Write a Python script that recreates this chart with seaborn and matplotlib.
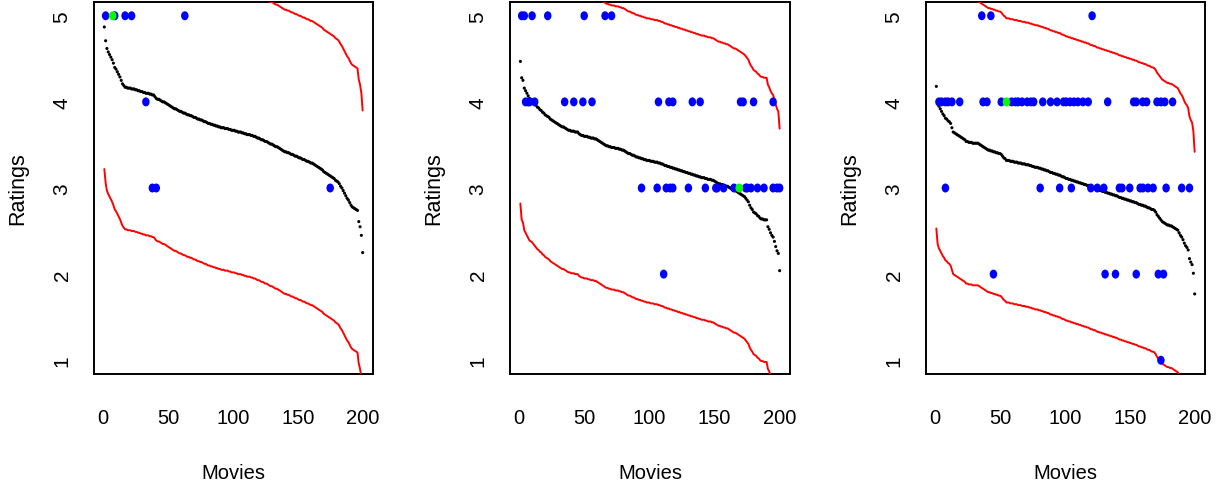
import numpy as np
import pandas as pd
import matplotlib
matplotlib.use("Agg")
import matplotlib.pyplot as plt
import seaborn as sns
from matplotlib.path import Path
from matplotlib.transforms import Affine2D

# ---------------- data ----------------
movies = list(range(1, 201))

avg_1 = [
    4.87, 4.71, 4.62, 4.58, 4.55, 4.52, 4.49, 4.45, 4.40, 4.38,
    4.35, 4.32, 4.29, 4.25, 4.21, 4.19, 4.17, 4.17, 4.16, 4.16,
    4.16, 4.15, 4.15, 4.15, 4.14, 4.14, 4.13, 4.13, 4.12, 4.12,
    4.11, 4.11, 4.10, 4.10, 4.10, 4.09, 4.09, 4.08, 4.08, 4.06,
    4.04, 4.03, 4.03, 4.02, 4.01, 4.00, 4.00, 3.99, 3.98, 3.97,
    3.96, 3.95, 3.94, 3.93, 3.92, 3.92, 3.91, 3.90, 3.89, 3.89,
    3.88, 3.87, 3.87, 3.86, 3.85, 3.85, 3.84, 3.84, 3.83, 3.82,
    3.82, 3.81, 3.80, 3.80, 3.79, 3.79, 3.78, 3.77, 3.77, 3.76,
    3.75, 3.75, 3.74, 3.74, 3.73, 3.73, 3.72, 3.72, 3.71, 3.71,
    3.70, 3.70, 3.70, 3.69, 3.69, 3.69, 3.68, 3.68, 3.67, 3.67,
    3.67, 3.66, 3.66, 3.65, 3.65, 3.65, 3.64, 3.64, 3.63, 3.63,
    3.62, 3.62, 3.62, 3.61, 3.61, 3.60, 3.60, 3.59, 3.58, 3.58,
    3.57, 3.56, 3.56, 3.55, 3.54, 3.54, 3.53, 3.52, 3.51, 3.51,
    3.50, 3.49, 3.48, 3.48, 3.47, 3.46, 3.45, 3.44, 3.43, 3.42,
    3.42, 3.41, 3.41, 3.40, 3.39, 3.39, 3.38, 3.37, 3.37, 3.36,
    3.35, 3.35, 3.34, 3.33, 3.33, 3.32, 3.31, 3.31, 3.30, 3.29,
    3.29, 3.28, 3.27, 3.26, 3.25, 3.24, 3.23, 3.22, 3.21, 3.19,
    3.18, 3.17, 3.16, 3.15, 3.14, 3.13, 3.12, 3.11, 3.09, 3.08,
    3.07, 3.05, 3.02, 3.00, 2.97, 2.94, 2.91, 2.88, 2.86, 2.83,
    2.80, 2.78, 2.77, 2.76, 2.75, 2.74, 2.61, 2.55, 2.45, 2.25,
]

avg_2 = [
    4.47, 4.28, 4.25, 4.16, 4.13, 4.10, 4.07, 4.04, 4.03, 4.02,
    4.00, 3.98, 3.96, 3.94, 3.93, 3.91, 3.90, 3.88, 3.87, 3.85,
    3.84, 3.83, 3.82, 3.80, 3.79, 3.78, 3.77, 3.76, 3.75, 3.74,
    3.73, 3.72, 3.71, 3.71, 3.70, 3.69, 3.68, 3.67, 3.67, 3.66,
    3.66, 3.66, 3.65, 3.65, 3.65, 3.63, 3.62, 3.61, 3.61, 3.60,
    3.60, 3.60, 3.59, 3.59, 3.58, 3.58, 3.58, 3.57, 3.57, 3.56,
    3.55, 3.54, 3.53, 3.52, 3.51, 3.50, 3.49, 3.49, 3.48, 3.48,
    3.47, 3.47, 3.47, 3.46, 3.46, 3.46, 3.45, 3.45, 3.44, 3.44,
    3.43, 3.42, 3.41, 3.40, 3.40, 3.39, 3.38, 3.38, 3.37, 3.36,
    3.36, 3.35, 3.35, 3.34, 3.34, 3.33, 3.33, 3.32, 3.32, 3.32,
    3.31, 3.31, 3.31, 3.30, 3.30, 3.30, 3.29, 3.29, 3.28, 3.28,
    3.27, 3.26, 3.26, 3.25, 3.25, 3.24, 3.24, 3.23, 3.23, 3.22,
    3.22, 3.21, 3.21, 3.20, 3.20, 3.19, 3.19, 3.18, 3.18, 3.17,
    3.17, 3.16, 3.16, 3.15, 3.15, 3.14, 3.14, 3.13, 3.13, 3.12,
    3.12, 3.12, 3.11, 3.11, 3.10, 3.10, 3.10, 3.09, 3.09, 3.08,
    3.07, 3.06, 3.05, 3.05, 3.04, 3.04, 3.03, 3.03, 3.02, 3.02,
    3.01, 3.00, 2.99, 2.98, 2.97, 2.97, 2.96, 2.95, 2.94, 2.93,
    2.92, 2.91, 2.90, 2.88, 2.86, 2.84, 2.80, 2.77, 2.75, 2.72,
    2.71, 2.70, 2.68, 2.67, 2.65, 2.64, 2.64, 2.63, 2.63, 2.63,
    2.55, 2.52, 2.48, 2.45, 2.43, 2.38, 2.32, 2.27, 2.24, 2.04,
]

avg_3 = [
    4.18, 4.00, 3.95, 3.92, 3.89, 3.86, 3.84, 3.81, 3.80, 3.78,
    3.77, 3.75, 3.70, 3.65, 3.64, 3.63, 3.62, 3.61, 3.60, 3.59,
    3.58, 3.57, 3.56, 3.54, 3.54, 3.53, 3.53, 3.53, 3.52, 3.52,
    3.52, 3.52, 3.52, 3.51, 3.50, 3.49, 3.48, 3.47, 3.46, 3.45,
    3.44, 3.44, 3.43, 3.43, 3.42, 3.42, 3.41, 3.41, 3.40, 3.40,
    3.39, 3.37, 3.35, 3.34, 3.32, 3.32, 3.32, 3.31, 3.31, 3.31,
    3.30, 3.30, 3.30, 3.29, 3.29, 3.29, 3.28, 3.28, 3.28, 3.27,
    3.27, 3.27, 3.26, 3.26, 3.25, 3.25, 3.24, 3.24, 3.24, 3.23,
    3.23, 3.22, 3.22, 3.21, 3.21, 3.20, 3.20, 3.19, 3.18, 3.18,
    3.17, 3.17, 3.16, 3.16, 3.15, 3.15, 3.14, 3.13, 3.13, 3.12,
    3.11, 3.11, 3.10, 3.10, 3.09, 3.09, 3.08, 3.08, 3.07, 3.07,
    3.06, 3.06, 3.05, 3.05, 3.04, 3.04, 3.03, 3.03, 3.02, 3.01,
    3.01, 3.00, 3.00, 2.99, 2.98, 2.98, 2.97, 2.97, 2.96, 2.96,
    2.95, 2.95, 2.94, 2.94, 2.93, 2.93, 2.92, 2.92, 2.91, 2.91,
    2.90, 2.89, 2.89, 2.88, 2.88, 2.87, 2.87, 2.86, 2.86, 2.85,
    2.85, 2.84, 2.84, 2.83, 2.83, 2.82, 2.81, 2.81, 2.80, 2.80,
    2.79, 2.79, 2.78, 2.77, 2.77, 2.76, 2.75, 2.75, 2.74, 2.72,
    2.69, 2.67, 2.65, 2.63, 2.61, 2.60, 2.59, 2.58, 2.57, 2.57,
    2.56, 2.56, 2.55, 2.54, 2.53, 2.52, 2.51, 2.48, 2.45, 2.43,
    2.40, 2.36, 2.33, 2.31, 2.28, 2.18, 2.14, 2.11, 2.01, 1.77,
]

band = [1.65, 1.65, 1.65]

user_x_1 = [2, 9, 17, 22, 63, 33, 38, 41, 175]
user_y_1 = [5, 5, 5, 5, 5, 4, 3, 3, 3]
pick_x_1 = [7.5]
pick_y_1 = [5]

user_x_2 = [2, 4, 10, 22, 50, 66, 71,
            5, 7, 8, 12, 35, 42, 49, 56, 107, 115, 118, 133, 139, 170, 172, 180, 195,
            94, 106, 113, 116, 118, 130, 143, 151, 152, 157, 165, 174, 175, 178, 183, 188, 195, 198, 200,
            111]
user_y_2 = [5] * 7 + [4] * 17 + [3] * 19 + [2]
pick_x_2 = [169]
pick_y_2 = [3]

user_x_3 = [36, 43, 121,
            3, 5, 8, 10, 13, 19, 37, 40, 51, 59, 62, 64, 67, 71, 74, 76, 83, 89, 94,
            99, 101, 104, 107, 110, 114, 118, 133, 153, 155, 160, 163, 171, 174, 177, 183,
            8, 81, 96, 105, 120, 125, 130, 142, 144, 150, 158, 160, 164, 168, 178, 190, 196,
            45, 131, 139, 155, 172, 176,
            174]
user_y_3 = [5] * 3 + [4] * 35 + [3] * 17 + [2] * 6 + [1]
pick_x_3 = [55]
pick_y_3 = [4]

x_ticks = [0, 50, 100, 150, 200]
y_ticks = [1, 2, 3, 4, 5]
x_label = "Movies"
y_label = "Ratings"

# ---------------- style ----------------
sns.set_style("white")
plt.rcParams["font.family"] = ["Liberation Sans", "DejaVu Sans"]
for k in ["text.color", "axes.labelcolor", "xtick.color", "ytick.color", "axes.edgecolor"]:
    plt.rcParams[k] = "black"

W, H = 1218, 485
fig = plt.figure(figsize=(W / 100, H / 100), dpi=100)
fig.patch.set_facecolor("white")

panels = [
    (avg_1, band[0], user_x_1, user_y_1, pick_x_1, pick_y_1, 94, 373),
    (avg_2, band[1], user_x_2, user_y_2, pick_x_2, pick_y_2, 510, 790),
    (avg_3, band[2], user_x_3, user_y_3, pick_x_3, pick_y_3, 926, 1205),
]

ell = Path.unit_circle().transformed(Affine2D().scale(1.0, 1.2))
ax_top, ax_bot = 3, 375
fam = ["Liberation Sans", "DejaVu Sans"]

for avg, bd, ux, uy, px, py, left, right in panels:
    ax = fig.add_axes([left / W, (H - ax_bot) / H, (right - left) / W, (ax_bot - ax_top) / H])
    df = pd.DataFrame({"movie": movies, "avg": avg})
    df["upper"] = df["avg"] + bd
    df["lower"] = df["avg"] - bd

    sns.scatterplot(data=df, x="movie", y="avg", ax=ax, color="black", s=5.0,
                    marker="o", linewidth=0, edgecolor="none", zorder=2, legend=False)
    sns.lineplot(data=df, x="movie", y="upper", ax=ax, color="#FF0000", lw=1.4,
                 zorder=3, legend=False, estimator=None)
    sns.lineplot(data=df, x="movie", y="lower", ax=ax, color="#FF0000", lw=1.4,
                 zorder=3, legend=False, estimator=None)
    sns.scatterplot(x=ux, y=uy, ax=ax, color="#0000FF", s=42, marker=ell,
                    linewidth=0, edgecolor="none", zorder=4, legend=False)
    sns.scatterplot(x=px, y=py, ax=ax, color="#00FF00", s=42, marker=ell,
                    linewidth=0, edgecolor="none", zorder=5, legend=False)

    xr = (200 - 1) * 0.04
    ax.set_xlim(1 - xr, 200 + xr)
    ax.set_ylim(1 - 0.16, 5 + 0.16)
    ax.set_xticks(x_ticks)
    ax.set_yticks(y_ticks)
    ax.set_xticklabels([str(t) for t in x_ticks], fontsize=14.5, family=fam)
    ax.set_yticklabels([str(t) for t in y_ticks], fontsize=15, family=fam)
    ax.tick_params(axis="x", direction="out", length=10, width=1.3, pad=14.5, colors="black")
    ax.tick_params(axis="y", direction="out", length=7.6, width=1.3, pad=8.5, colors="black",
                   labelrotation=90)
    for lab in ax.get_yticklabels():
        lab.set_va("center")
    for sp in ax.spines.values():
        sp.set_visible(True)
        sp.set_color("black")
        sp.set_linewidth(1.4)

    ax.set_xlabel(x_label, fontsize=14.5, family=fam)
    ax.set_ylabel(y_label, fontsize=15.5, family=fam)
    axw = right - left
    axh = ax_bot - ax_top
    ax.xaxis.set_label_coords(0.5, (ax_bot - 474) / axh)
    ax.yaxis.set_label_coords((17.5 - 94) / axw, 0.5)
    ax.xaxis.label.set_va("center")
    ax.yaxis.label.set_va("center")
    ax.grid(False)

fig.savefig("out.png", dpi=100, facecolor="white")
